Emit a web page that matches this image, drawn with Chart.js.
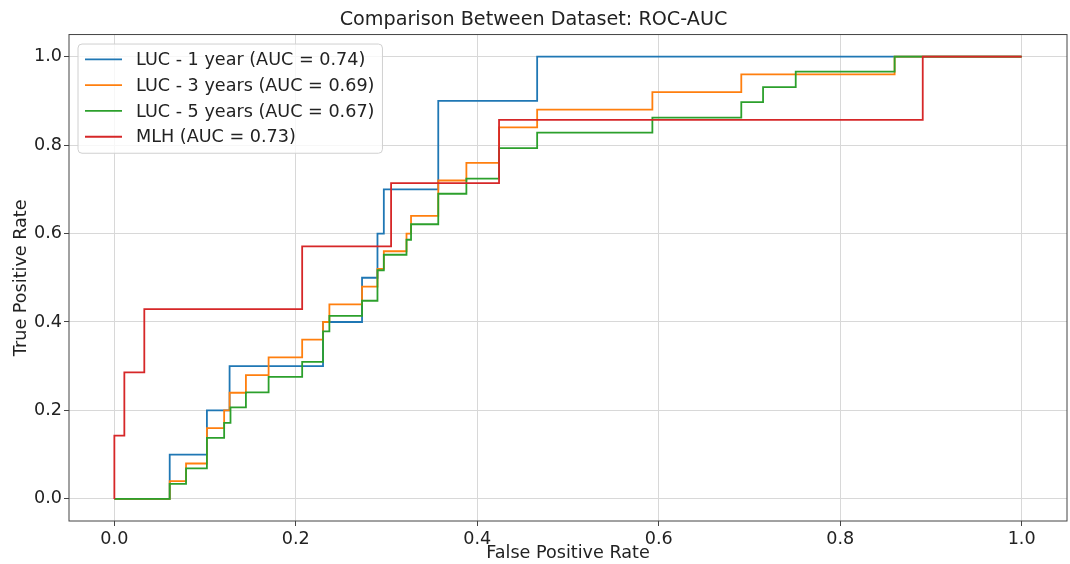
<!DOCTYPE html>
<html lang="en">
<head>
<meta charset="UTF-8">
<title>Comparison Between Dataset: ROC-AUC</title>
<script src="https://cdn.jsdelivr.net/npm/chart.js"></script>
<style>
    html, body { margin: 0; padding: 0; background: #fff; }
    .chart-container { width: 1070px; height: 564px; }
</style>
</head>
<body>
<div class="chart-container"><canvas id="rocChart"></canvas></div>
<script>
// ROC curve corners (fpr, tpr)
const seriesLabels = ['LUC - 1 year (AUC = 0.74)', 'LUC - 3 years (AUC = 0.69)', 'LUC - 5 years (AUC = 0.67)', 'MLH (AUC = 0.73)'];
const seriesColors = ['#1f77b4', '#ff7f0e', '#2ca02c', '#d62728'];

const luc1Fpr = [0, 0.061, 0.061, 0.102, 0.102, 0.127, 0.127, 0.230, 0.230, 0.273, 0.273, 0.290, 0.290, 0.297, 0.297, 0.357, 0.357, 0.466, 0.466, 1.0];
const luc1Tpr = [0, 0, 0.1, 0.1, 0.2, 0.2, 0.3, 0.3, 0.4, 0.4, 0.5, 0.5, 0.6, 0.6, 0.7, 0.7, 0.9, 0.9, 1.0, 1.0];

const luc3Fpr = [0, 0.061, 0.061, 0.079, 0.079, 0.102, 0.102, 0.121, 0.121, 0.127, 0.127, 0.145, 0.145, 0.170, 0.170, 0.207, 0.207, 0.230, 0.230, 0.237, 0.237, 0.273, 0.273, 0.290, 0.290, 0.297, 0.297, 0.322, 0.322, 0.327, 0.327, 0.357, 0.357, 0.388, 0.388, 0.424, 0.424, 0.466, 0.466, 0.593, 0.593, 0.691, 0.691, 0.860, 0.860, 1.0];
const luc3Tpr = [0, 0, 0.04, 0.04, 0.08, 0.08, 0.16, 0.16, 0.20, 0.20, 0.24, 0.24, 0.28, 0.28, 0.32, 0.32, 0.36, 0.36, 0.40, 0.40, 0.44, 0.44, 0.48, 0.48, 0.52, 0.52, 0.56, 0.56, 0.60, 0.60, 0.64, 0.64, 0.72, 0.72, 0.76, 0.76, 0.84, 0.84, 0.88, 0.88, 0.92, 0.92, 0.96, 0.96, 1.0, 1.0];

const luc5Fpr = [0, 0.061, 0.061, 0.079, 0.079, 0.102, 0.102, 0.121, 0.121, 0.128, 0.128, 0.145, 0.145, 0.170, 0.170, 0.207, 0.207, 0.230, 0.230, 0.237, 0.237, 0.273, 0.273, 0.290, 0.290, 0.297, 0.297, 0.322, 0.322, 0.327, 0.327, 0.357, 0.357, 0.388, 0.388, 0.424, 0.424, 0.466, 0.466, 0.593, 0.593, 0.691, 0.691, 0.715, 0.715, 0.751, 0.751, 0.860, 0.860, 1.0];
const luc5Tpr = [0, 0, 0.034, 0.034, 0.069, 0.069, 0.138, 0.138, 0.172, 0.172, 0.207, 0.207, 0.241, 0.241, 0.276, 0.276, 0.310, 0.310, 0.379, 0.379, 0.414, 0.414, 0.448, 0.448, 0.517, 0.517, 0.552, 0.552, 0.586, 0.586, 0.621, 0.621, 0.690, 0.690, 0.724, 0.724, 0.793, 0.793, 0.828, 0.828, 0.862, 0.862, 0.897, 0.897, 0.931, 0.931, 0.966, 0.966, 1.0, 1.0];

const mlhFpr = [0, 0, 0.011, 0.011, 0.033, 0.033, 0.207, 0.207, 0.305, 0.305, 0.424, 0.424, 0.891, 0.891, 1.0];
const mlhTpr = [0, 0.143, 0.143, 0.286, 0.286, 0.429, 0.429, 0.571, 0.571, 0.714, 0.714, 0.857, 0.857, 1.0, 1.0];

const xTicks = [0, 0.2, 0.4, 0.6, 0.8, 1.0];
const yTicks = [0, 0.2, 0.4, 0.6, 0.8, 1.0];

const allFpr = [luc1Fpr, luc3Fpr, luc5Fpr, mlhFpr];
const allTpr = [luc1Tpr, luc3Tpr, luc5Tpr, mlhTpr];

const FONT = '"DejaVu Sans", sans-serif';
const TEXT = '#222';
const FS = 17.6;

const dataSets = seriesLabels.map((label, i) => ({
    label: label,
    data: allFpr[i].map((x, j) => ({ x: x, y: allTpr[i][j] })),
    borderColor: seriesColors[i],
    borderWidth: 1.8,
    pointRadius: 0,
    fill: false,
    tension: 0,
    order: seriesLabels.length - 1 - i // last series on top, like matplotlib
}));

// axes frame + matplotlib-style legend box inside the plot
const boxLegend = {
    id: 'boxLegend',
    afterDraw(chart) {
        const { ctx, chartArea } = chart;
        ctx.save();
        ctx.strokeStyle = '#444';
        ctx.lineWidth = 1;
        ctx.strokeRect(chartArea.left, chartArea.top, chartArea.right - chartArea.left, chartArea.bottom - chartArea.top);

        const ds = chart.data.datasets;
        ctx.font = FS + 'px ' + FONT;
        const textW = Math.max(...ds.map(d => ctx.measureText(d.label).width));
        const x0 = chartArea.left + 9, y0 = chartArea.top + 9.5;
        const rowH = 25.8;
        const w = 58 + textW + 8, h = 15.3 + (ds.length - 1) * rowH + 16.5;
        ctx.beginPath();
        ctx.roundRect(x0, y0, w, h, 4);
        ctx.fillStyle = 'rgba(255,255,255,0.8)';
        ctx.fill();
        ctx.strokeStyle = '#d0d0d0';
        ctx.stroke();

        ctx.textBaseline = 'middle';
        ctx.textAlign = 'left';
        ds.forEach((d, i) => {
            const cy = y0 + 15.3 + i * rowH;
            ctx.beginPath();
            ctx.moveTo(x0 + 7, cy);
            ctx.lineTo(x0 + 44, cy);
            ctx.strokeStyle = d.borderColor;
            ctx.lineWidth = 1.8;
            ctx.stroke();
            ctx.fillStyle = TEXT;
            ctx.fillText(d.label, x0 + 58, cy + 1);
        });
        ctx.restore();
    }
};

Chart.defaults.font.family = FONT;

new Chart(document.getElementById('rocChart'), {
    type: 'line',
    data: { datasets: dataSets },
    options: {
        responsive: true,
        maintainAspectRatio: false,
        animation: false,
        layout: { padding: { left: 0, right: 3, top: 0, bottom: 0 } },
        plugins: {
            legend: { display: false },
            tooltip: { enabled: false },
            title: {
                display: true,
                text: 'Comparison Between Dataset: ROC-AUC',
                color: TEXT,
                font: { size: 19.2, weight: 'normal' },
                padding: { top: 8, bottom: 3.5 }
            }
        },
        scales: {
            x: {
                type: 'linear',
                min: -0.05,
                max: 1.05,
                afterBuildTicks: s => { s.ticks = xTicks.map(v => ({ value: v })); },
                afterFit: s => { s.height = 43; },
                ticks: { callback: v => v.toFixed(1), color: TEXT, font: { size: FS }, padding: 3, maxRotation: 0, autoSkip: false },
                grid: { color: '#d8d8d8', tickColor: '#444', tickLength: 5, lineWidth: 1 },
                border: { display: false },
                title: { display: true, text: 'False Positive Rate', color: TEXT, font: { size: FS }, padding: { top: 0, bottom: 0 } }
            },
            y: {
                type: 'linear',
                min: -0.05,
                max: 1.05,
                afterBuildTicks: s => { s.ticks = yTicks.map(v => ({ value: v })); },
                afterFit: s => { s.width = 69; },
                ticks: { callback: v => v.toFixed(1), color: TEXT, font: { size: FS }, padding: 2, autoSkip: false },
                grid: { color: '#d8d8d8', tickColor: '#444', tickLength: 5, lineWidth: 1 },
                border: { display: false },
                title: { display: true, text: 'True Positive Rate', color: TEXT, font: { size: FS }, padding: { top: 11, bottom: 0 } }
            }
        }
    },
    plugins: [boxLegend]
});
</script>
</body>
</html>
